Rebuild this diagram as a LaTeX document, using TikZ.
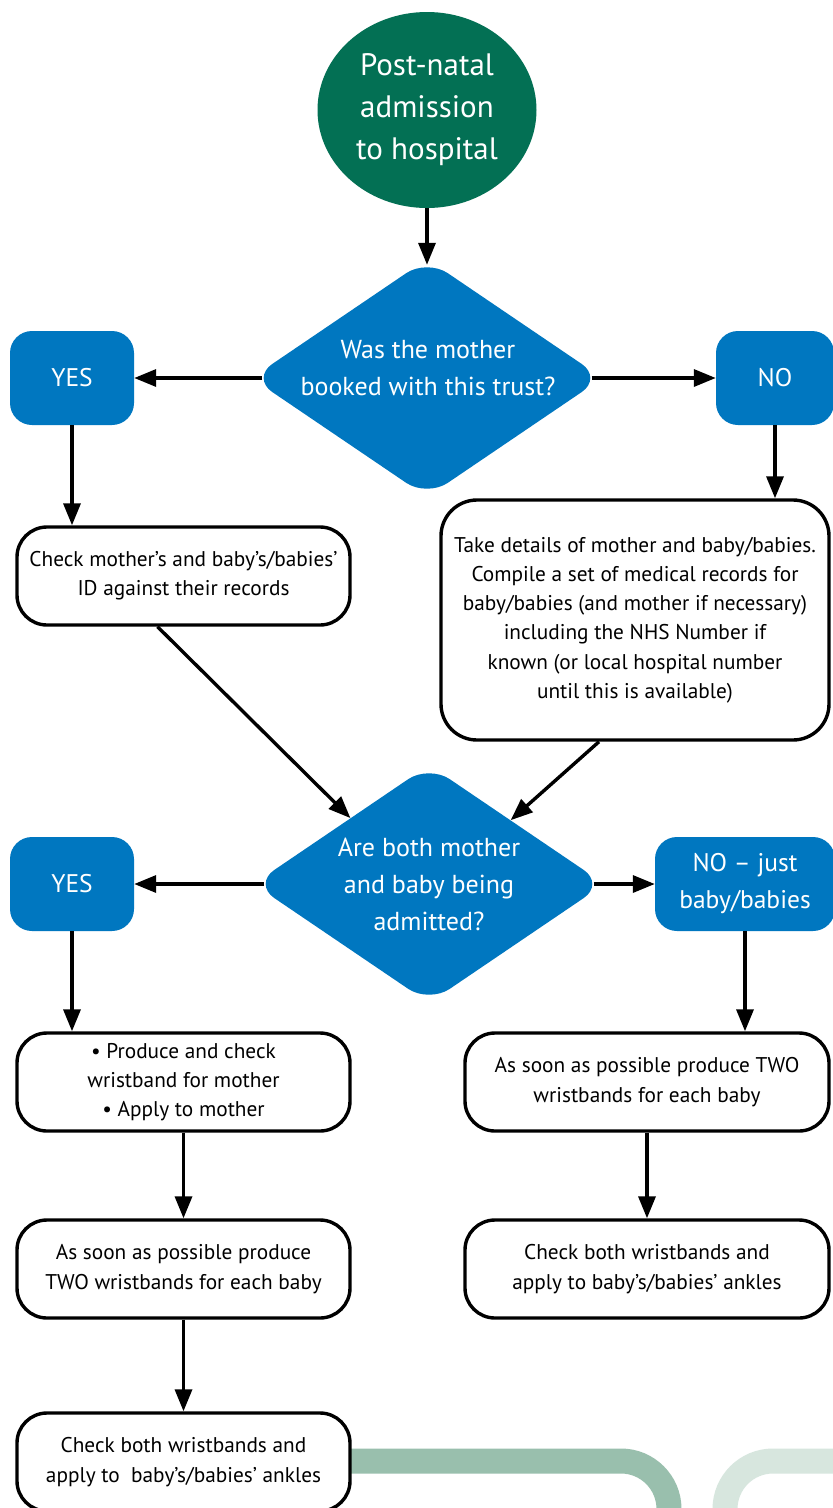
\documentclass[tikz,border=0pt]{standalone}
\usepackage{fontspec}
\setmainfont{PT Sans}
\usetikzlibrary{arrows.meta,shapes.geometric}
\definecolor{nhsblue}{RGB}{0,119,192}
\definecolor{nhsgreen}{RGB}{3,112,84}
\definecolor{banddark}{RGB}{153,191,173}
\definecolor{bandlight}{RGB}{215,230,222}
\tikzset{
  wbox/.style={draw=black, line width=3.4pt, fill=white, rounded corners=30pt, align=center,
    font=\fontsize{21.3}{29.2}\selectfont, inner sep=0pt, minimum width=333pt, minimum height=98pt},
  bbox/.style={fill=nhsblue, rounded corners=22pt, text=white, font=\fontsize{25.5}{37}\selectfont,
    minimum width=124pt, minimum height=94pt, align=center, inner sep=0pt},
  dia/.style={diamond, fill=nhsblue, rounded corners=25pt, aspect=1.45,
    minimum width=351pt, minimum height=238pt, inner sep=0pt},
  diatext/.style={text=white, align=center, font=\fontsize{26}{37}\selectfont, inner sep=0pt},
  startnode/.style={ellipse, fill=nhsgreen, text=white, align=center, font=\fontsize{31}{42}\selectfont,
    minimum width=219pt, minimum height=196pt, inner sep=0pt},
  arr/.style={line width=3.4pt, -{Triangle[width=17pt,length=22pt]}}
}
\begin{document}
\begin{tikzpicture}[x=1pt,y=-1pt]
\clip (0,0) rectangle (833,1508);
\fill[white] (0,0) rectangle (833,1508);
% decorative bands
\draw[banddark, line width=25pt, rounded corners=48pt] (300,1461) -- (669,1461) -- (669,1540);
\draw[bandlight, line width=25pt, rounded corners=48pt] (725,1540) -- (725,1461) -- (870,1461);

\node[startnode] (c) at (427,110) {Post-natal\\admission\\to hospital};
\node[dia] (d1) at (427,378) {};
\node[diatext] (d1t) at (428,368.5) {Was the mother\\booked with this trust?};
\node[bbox] (yes1) at (72,378) {YES};
\node[bbox, minimum width=118pt] (no1) at (775,378) {NO};
\node[wbox] (b1) at (183.5,576) {Check mother’s and baby’s/babies’\\ID against their records};
\node[wbox, minimum width=388pt, minimum height=240pt, rounded corners=36pt] (b2) at (635,620)
  {Take details of mother and baby/babies.\\Compile a set of medical records for\\baby/babies (and mother if necessary)\\including the NHS Number if\\known (or local hospital number\\until this is available)};
\node[dia] (d2) at (429,884) {};
\node[diatext] (d2t) at (429,884) {Are both mother\\and baby being\\admitted?};
\node[bbox] (yes2) at (72,884) {YES};
\node[bbox, minimum width=180pt] (no2) at (745,884) {NO – just\\baby/babies};
\node[wbox] (b3) at (183.5,1082) {• Produce and check\\wristband for mother\\• Apply to mother};
\node[wbox] (b4) at (183.5,1269) {As soon as possible produce\\TWO wristbands for each baby};
\node[wbox] (b5) at (183.5,1462) {Check both wristbands and\\apply to\ \ baby’s/babies’ ankles};
\node[wbox, minimum width=364pt] (b6) at (647,1082) {As soon as possible produce TWO\\wristbands for each baby};
\node[wbox, minimum width=364pt] (b7) at (647,1269) {Check both wristbands and\\apply to baby’s/babies’ ankles};

\draw[arr, shorten >=-6pt] (c.south) -- (d1.north);
\draw[arr, shorten <=-11pt] (d1.west) -- (yes1.east);
\draw[arr, shorten <=-11pt] (d1.east) -- (no1.west);
\draw[arr] (yes1.south) -- (yes1.south |- b1.north);
\draw[arr] (no1.south) -- (no1.south |- b2.north);
\draw[arr] ([xshift=-26pt]b1.south) -- (d2.140);
\draw[arr] ([xshift=-36pt]b2.south) -- (d2.38);
\draw[arr, shorten <=-11pt] (d2.west) -- (yes2.east);
\draw[arr, shorten <=-11pt] (d2.east) -- (no2.west);
\draw[arr] (yes2.south) -- (yes2.south |- b3.north);
\draw[arr] (b3.south) -- (b4.north);
\draw[arr] (b4.south) -- (b5.north);
\draw[arr] (no2.south) -- (no2.south |- b6.north);
\draw[arr] (b6.south) -- (b7.north);
\end{tikzpicture}
\end{document}
